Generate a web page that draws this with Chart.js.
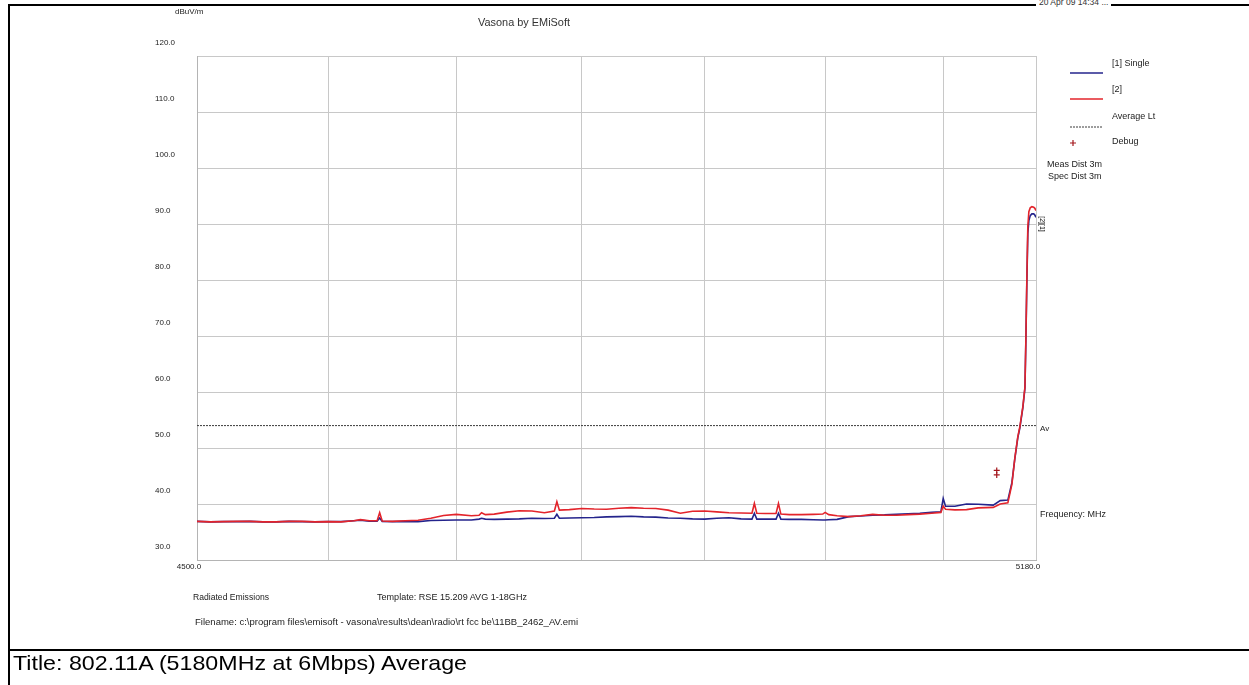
<!DOCTYPE html>
<html>
<head>
<meta charset="utf-8">
<title>Vasona by EMiSoft</title>
<script src="https://cdn.jsdelivr.net/npm/chart.js@4.4.1/dist/chart.umd.min.js"></script>
<style>
  html, body { margin: 0; padding: 0; background: #fff; }
  #sheet { position: relative; width: 1249px; height: 685px; overflow: hidden;
           font-family: "Liberation Sans", Arial, sans-serif; color: #222; }
  #plot { position: absolute; left: 0; top: 0; }
  .rule { position: absolute; background: #000; }
  .txt { position: absolute; white-space: nowrap; transform-origin: 0 50%; }
</style>
</head>
<body>
<div id="sheet">
  <canvas id="plot" width="1249" height="685" style="width:1249px;height:685px"></canvas>

  <!-- report frame -->
  <div class="rule" style="left:8px; top:4px; width:1241px; height:2px"></div>
  <div class="rule" style="left:8px; top:4px; width:2px; height:681px"></div>
  <div class="rule" style="left:8px; top:649px; width:1241px; height:2px"></div>

  <div class="txt" style="left:1036px; top:-3px; font-size:8.5px; line-height:11px; background:#fff; padding:0 3px; color:#333">20 Apr 09 14:34 ...</div>
  <div class="txt" id="head" style="left:478px; top:16px; font-size:10.5px; line-height:12px; color:#333" data-w="92">Vasona by EMiSoft</div>

  <div class="txt" style="left:193px; top:591px; font-size:9px; line-height:12px" data-w="76">Radiated Emissions</div>
  <div class="txt" style="left:377px; top:591px; font-size:9px; line-height:12px" data-w="150">Template: RSE 15.209 AVG 1-18GHz</div>
  <div class="txt" style="left:195px; top:616px; font-size:9px; line-height:12px" data-w="383">Filename: c:\program files\emisoft - vasona\results\dean\radio\rt fcc be\11BB_2462_AV.emi</div>

  <div class="txt" style="left:13px; top:651px; font-size:21px; line-height:24px; color:#000" data-w="454">Title: 802.11A (5180MHz at 6Mbps) Average</div>
</div>

<script>
// Frequency points of the sweep (MHz)
const freqMHz = [
  4500, 4510, 4520, 4530, 4540, 4550, 4560, 4570, 4580, 4590,
  4600, 4610, 4620, 4625, 4632, 4638, 4640, 4642, 4650, 4660,
  4670, 4680, 4690, 4700, 4712, 4718, 4720, 4723, 4730, 4740,
  4750, 4760, 4770, 4778, 4780, 4782, 4790, 4800, 4810, 4820,
  4830, 4840, 4850, 4860, 4870, 4880, 4890, 4900, 4910, 4920,
  4930, 4939, 4941, 4943, 4950, 4959, 4961, 4963, 4970, 4980,
  4990, 4998, 5000, 5003, 5010, 5020, 5030, 5040, 5050, 5060,
  5070, 5080, 5090, 5098, 5100, 5102, 5110, 5120, 5130, 5143,
  5149, 5155.6, 5159.1, 5161.7, 5164.2, 5166, 5168.6, 5170.4, 5171.2, 5172,
  5172.9, 5173.8, 5175, 5176.4, 5178, 5179, 5180
];

// Trace [1] Single (dBuV/m)
const trace1 = [
  36.9, 36.8, 36.85, 36.85, 36.9, 36.8, 36.8, 36.9, 36.85, 36.8,
  36.85, 36.85, 37.0, 37.1, 36.95, 36.95, 37.5, 36.9, 36.85, 36.9,
  36.85, 37.05, 37.1, 37.15, 37.15, 37.3, 37.45, 37.3, 37.25, 37.3,
  37.35, 37.45, 37.4, 37.45, 38.15, 37.45, 37.5, 37.55, 37.6, 37.7,
  37.75, 37.8, 37.7, 37.65, 37.5, 37.45, 37.35, 37.3, 37.45, 37.55,
  37.35, 37.3, 38.35, 37.3, 37.3, 37.3, 38.35, 37.3, 37.25, 37.25,
  37.2, 37.15, 37.15, 37.2, 37.25, 37.75, 37.85, 38.0, 38.05, 38.15,
  38.25, 38.35, 38.5, 38.6, 41.0, 39.6, 39.6, 40.0, 39.95, 39.8,
  40.6, 40.7, 43.8, 48.2, 51.8, 53.6, 57.2, 60.7, 69.0, 79.0,
  88.3, 90.6, 91.5, 91.8, 91.8, 91.6, 91.2
];

// Trace [2] (dBuV/m)
const trace2 = [
  36.9, 36.8, 36.85, 36.9, 36.9, 36.8, 36.8, 36.9, 36.9, 36.8,
  36.85, 36.8, 37.0, 37.2, 37.0, 37.0, 38.45, 36.95, 36.9, 37.0,
  37.1, 37.45, 37.95, 38.15, 37.9, 38.0, 38.45, 38.1, 38.2, 38.55,
  38.8, 38.75, 38.45, 38.75, 40.4, 38.9, 39.0, 39.2, 39.1, 39.05,
  39.25, 39.35, 39.25, 39.2, 38.9, 38.35, 38.7, 38.75, 38.6, 38.45,
  38.4, 38.35, 40.1, 38.35, 38.3, 38.3, 40.1, 38.2, 38.1, 38.1,
  38.15, 38.2, 38.5, 38.1, 37.9, 37.75, 37.9, 38.15, 38.0, 38.0,
  38.1, 38.2, 38.35, 38.5, 39.6, 39.05, 38.95, 39.0, 39.3, 39.4,
  40.0, 40.2, 43.5, 48.3, 52.0, 53.8, 57.4, 60.9, 69.3, 79.5,
  89.5, 92.2, 92.9, 93.1, 93.0, 92.8, 92.4
];

// Average limit (dBuV/m) across the span
const avgLimitMHz = [4500, 5180];
const avgLimitLevel = [54, 54];

// Debug markers
const debugMHz = [5146, 5146];
const debugLevel = [46.0, 45.2];

// Axis ticks
const xGridMHz = [4500, 4600, 4700, 4800, 4900, 5000, 5100, 5180];
const xLabelMHz = [4500, 5180];
const yMin = 30, yMax = 120, yStep = 10;

const seriesNames = ['[1] Single', '[2]', 'Average Lt', 'Debug'];
const sideNotes = ['Meas Dist 3m', 'Spec Dist 3m'];
const unitLabel = 'dBuV/m';
const freqLabel = 'Frequency: MHz';
const limitTag = 'Av';
const traceTags = '[2][1]';

const FONT = '"Liberation Sans", Arial, sans-serif';

// stretch text boxes to their set widths
document.querySelectorAll('.txt[data-w]').forEach(el => {
  const w = el.getBoundingClientRect().width;
  const target = parseFloat(el.dataset.w);
  if (w > 0) el.style.transform = 'scaleX(' + (target / w).toFixed(4) + ')';
});

const pairs = (xs, ys) => xs.map((v, i) => ({ x: v, y: ys[i] }));

// legend, side notes and trace tags drawn beside the plot
const sheetNotes = {
  id: 'sheetNotes',
  afterDraw(chart) {
    const { ctx, chartArea: a, scales } = chart;
    const ds = chart.data.datasets;
    ctx.save();
    ctx.fillStyle = '#222';
    ctx.textBaseline = 'middle';
    ctx.textAlign = 'left';

    ctx.font = '8px ' + FONT;
    ctx.fillText(unitLabel, 175, 12);

    // legend
    const lx0 = 1070, lx1 = 1103, tx = 1112;
    const rows = [
      { line: 73, text: 64 },
      { line: 99, text: 90 },
      { line: 127, text: 116.5 },
      { line: 143, text: 142 }
    ];
    ctx.font = '9px ' + FONT;
    ds.forEach((d, i) => {
      const r = rows[i];
      ctx.save();
      if (d.showLine === false) {
        ctx.strokeStyle = d.borderColor;
        ctx.lineWidth = 1.2;
        ctx.beginPath();
        ctx.moveTo(lx0, r.line); ctx.lineTo(lx0 + 6, r.line);
        ctx.moveTo(lx0 + 3, r.line - 3); ctx.lineTo(lx0 + 3, r.line + 3);
        ctx.stroke();
      } else {
        ctx.strokeStyle = d.borderColor;
        ctx.lineWidth = Math.min(d.borderWidth, 1.3);
        ctx.setLineDash(d.borderDash || []);
        ctx.beginPath();
        ctx.moveTo(lx0, r.line); ctx.lineTo(lx1, r.line);
        ctx.stroke();
      }
      ctx.restore();
      ctx.fillText(d.label, tx, r.text);
    });

    ctx.fillText(sideNotes[0], 1047, 165);
    ctx.fillText(sideNotes[1], 1048, 177);

    // limit tag and frequency caption at the right edge
    ctx.font = '8px ' + FONT;
    ctx.fillText(limitTag, a.right + 4, scales.y.getPixelForValue(avgLimitLevel[1]) + 3);
    ctx.font = '9px ' + FONT;
    ctx.fillText(freqLabel, a.right + 4, a.bottom - 45);

    // trace end tags
    ctx.save();
    ctx.translate(a.right + 6, 224);
    ctx.rotate(Math.PI / 2);
    ctx.textAlign = 'center';
    ctx.font = '7px ' + FONT;
    ctx.fillStyle = '#111';
    ctx.fillText(traceTags, 0, 0);
    ctx.restore();

    ctx.restore();
  }
};

Chart.defaults.font.family = FONT;

new Chart(document.getElementById('plot'), {
  type: 'line',
  data: {
    datasets: [
      {
        label: seriesNames[0],
        data: pairs(freqMHz, trace1),
        borderColor: '#24248c',
        borderWidth: 1.6,
        pointRadius: 0,
        tension: 0,
        order: 2
      },
      {
        label: seriesNames[1],
        data: pairs(freqMHz, trace2),
        borderColor: '#e3242b',
        borderWidth: 1.6,
        pointRadius: 0,
        tension: 0,
        order: 1
      },
      {
        label: seriesNames[2],
        data: pairs(avgLimitMHz, avgLimitLevel),
        borderColor: '#3a3a3a',
        borderWidth: 1,
        borderDash: [2, 1],
        pointRadius: 0,
        order: 3
      },
      {
        label: seriesNames[3],
        data: pairs(debugMHz, debugLevel),
        showLine: false,
        borderColor: '#a3161c',
        backgroundColor: '#a3161c',
        pointStyle: 'cross',
        pointRadius: 3,
        pointBorderWidth: 1.2,
        order: 0
      }
    ]
  },
  options: {
    responsive: false,
    animation: false,
    devicePixelRatio: 1,
    layout: { padding: { left: 155, right: 213, top: 56, bottom: 105 } },
    plugins: {
      legend: { display: false },
      tooltip: { enabled: false },
      title: { display: false }
    },
    scales: {
      x: {
        type: 'logarithmic',
        min: xGridMHz[0],
        max: xGridMHz[xGridMHz.length - 1],
        afterBuildTicks: s => { s.ticks = xGridMHz.map(v => ({ value: v })); },
        afterFit: s => { s.height = 20; },
        ticks: {
          autoSkip: false,
          maxRotation: 0,
          minRotation: 0,
          padding: 2,
          labelOffset: -8,
          color: '#222',
          font: { size: 8 },
          callback: v => xLabelMHz.includes(v) ? Number(v).toFixed(1) : ''
        },
        grid: { color: '#c8c8c8', lineWidth: 1, drawTicks: false },
        border: { color: '#b4b4b4', width: 1 }
      },
      y: {
        min: yMin,
        max: yMax,
        afterFit: s => { s.width = 42; },
        ticks: {
          stepSize: yStep,
          padding: 4,
          crossAlign: 'far',
          labelOffset: -13,
          color: '#222',
          font: { size: 8 },
          callback: v => Number(v).toFixed(1)
        },
        grid: { color: '#c8c8c8', lineWidth: 1, drawTicks: false },
        border: { color: '#b4b4b4', width: 1 }
      }
    }
  },
  plugins: [sheetNotes]
});
</script>
</body>
</html>
